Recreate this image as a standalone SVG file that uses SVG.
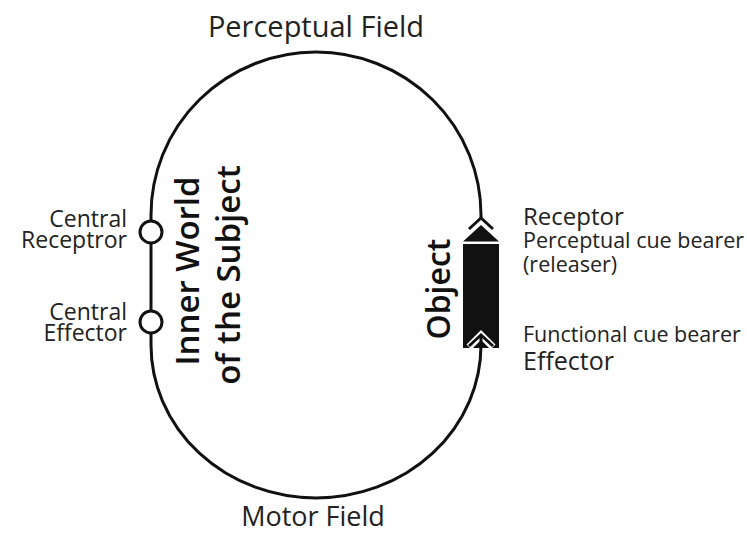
<svg xmlns="http://www.w3.org/2000/svg" width="747" height="534" viewBox="0 0 747 534">
  <style>
    .lbl { font-family: "Open Sans", "DejaVu Sans", sans-serif; fill: #222; }
    .big { font-family: "Open Sans", "DejaVu Sans", sans-serif; font-weight: 600; fill: #111; }
    .edge { fill: none; stroke: #111; stroke-width: 3; }
    .port { fill: #fff; stroke: #111; stroke-width: 3; }
  </style>
  <defs>
    <marker id="cue" markerUnits="userSpaceOnUse" orient="auto" refX="0" refY="0" markerWidth="30" markerHeight="30" overflow="visible">
      <polyline points="-11,-12 0,0 -11,12" fill="none" stroke="#111" stroke-width="3"/>
    </marker>
  </defs>
  <rect width="747" height="534" fill="#fff"/>

  <g id="object">
    <polygon points="463,241.5 481,225 499,241.5" fill="#111"/>
    <rect x="463" y="244" width="36" height="104" fill="#111"/>
    <polyline points="469,347 481,335 493,347" fill="none" stroke="#fff" stroke-width="7"/>
    <text class="big" font-size="32" text-anchor="middle" transform="translate(450,289) rotate(-90)">Object</text>
  </g>

  <g id="connectors">
    <path id="perceptual-arc" class="edge" d="M481,218 L481,215 A165,163 0 0 0 151,215" marker-start="url(#cue)"/>
    <path id="inner-line" class="edge" d="M151,215 L151,345"/>
    <path id="motor-arc" class="edge" d="M151,345 A165,153 0 0 0 481,345 L481,335" marker-end="url(#cue)"/>
  </g>

  <g id="central-receptor">
    <circle class="port" cx="151" cy="232" r="11"/>
    <text class="lbl" font-size="23" text-anchor="end" x="127" y="227">Central</text>
    <text class="lbl" font-size="23" text-anchor="end" x="127" y="248">Receptror</text>
  </g>

  <g id="central-effector">
    <circle class="port" cx="151" cy="322" r="11"/>
    <text class="lbl" font-size="23" text-anchor="end" x="127" y="320">Central</text>
    <text class="lbl" font-size="23" text-anchor="end" x="127" y="341">Effector</text>
  </g>

  <g id="inner-world">
    <text class="big" font-size="33" text-anchor="middle" transform="translate(199,271) rotate(-90)">Inner World</text>
    <text class="big" font-size="33" text-anchor="middle" transform="translate(240,275) rotate(-90)">of the Subject</text>
  </g>

  <g id="perceptual-field">
    <text class="lbl" font-size="29" text-anchor="middle" x="316" y="37">Perceptual Field</text>
  </g>

  <g id="motor-field">
    <text class="lbl" font-size="27" text-anchor="middle" x="313" y="526">Motor Field</text>
  </g>

  <g id="receptor-labels">
    <text class="lbl" font-size="24" x="523" y="225">Receptor</text>
    <text class="lbl" font-size="21.5" x="523" y="248">Perceptual cue bearer</text>
    <text class="lbl" font-size="21.5" x="523" y="272">(releaser)</text>
  </g>

  <g id="effector-labels">
    <text class="lbl" font-size="21.5" x="523" y="342">Functional cue bearer</text>
    <text class="lbl" font-size="25" x="523" y="370">Effector</text>
  </g>
</svg>
